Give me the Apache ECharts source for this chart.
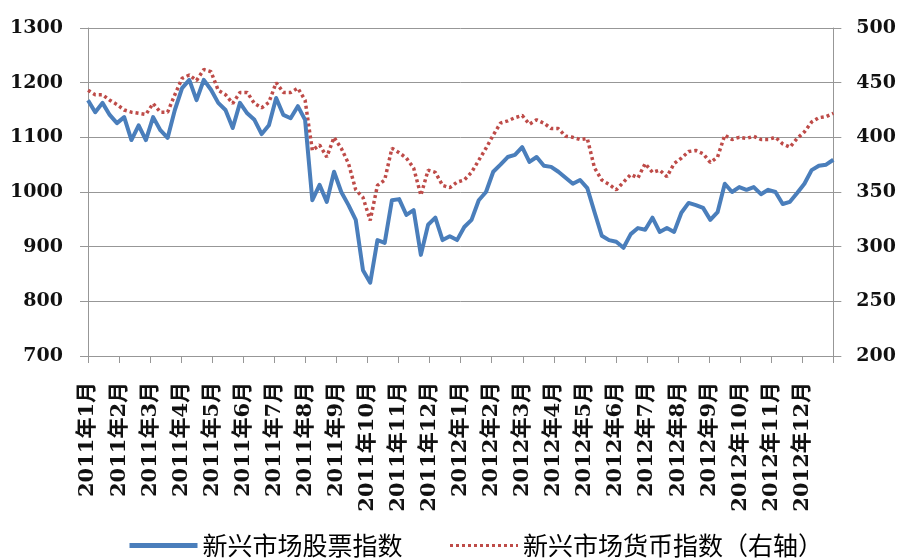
<!DOCTYPE html>
<html>
<head>
<meta charset="utf-8">
<script src="https://cdn.jsdelivr.net/npm/echarts@6/dist/echarts.min.js"></script>
<style>
  html, body { margin: 0; padding: 0; background: #fff; }
  #chart { width: 899px; height: 558px; }
</style>
</head>
<body>
<div id="chart"></div>
<script>
// Month labels along the bottom axis (one per month boundary; the closing tick is unlabeled)
const months = [
  '2011年1月','2011年2月','2011年3月','2011年4月','2011年5月','2011年6月',
  '2011年7月','2011年8月','2011年9月','2011年10月','2011年11月','2011年12月',
  '2012年1月','2012年2月','2012年3月','2012年4月','2012年5月','2012年6月',
  '2012年7月','2012年8月','2012年9月','2012年10月','2012年11月','2012年12月',''
];

// Weekly closes, Jan 2011 – Dec 2012
const stockIndex = [
  1168,1146,1163,1141,1126,1137,1095,1122,1095,1137,
  1113,1099,1150,1190,1205,1168,1205,1187,1163,1150,
  1117,1163,1144,1132,1106,1122,1172,1141,1135,1157,
  1132,985,1013,982,1037,1000,976,949,857,834,
  912,907,985,987,958,967,885,940,953,912,
  919,912,936,949,985,1000,1037,1050,1064,1068,
  1082,1055,1064,1048,1046,1037,1026,1015,1022,1007,
  963,920,912,909,898,923,934,931,953,927,
  934,927,962,980,976,971,949,963,1015,1000,
  1009,1004,1009,996,1004,1000,978,982,998,1015,
  1040,1048,1050,1059
];

const currencyIndex = [
  443,439,439,434,430,425,423,422,421,431,
  423,423,439,454,457,452,462,460,443,439,
  431,441,441,431,427,432,450,441,441,445,
  434,388,393,382,400,390,376,352,345,324,
  356,361,390,386,381,372,347,370,368,356,
  354,359,361,368,379,390,402,413,415,418,
  420,412,416,413,408,408,401,400,398,399,
  372,361,357,352,359,366,363,376,368,370,
  364,376,381,387,388,385,377,382,402,398,
  400,399,401,398,398,400,394,391,399,405,
  414,418,419,422
];

const seriesNames = ['新兴市场股票指数', '新兴市场货币指数（右轴）'];

const axisFont = {
  fontFamily: "'DejaVu Serif', 'Noto Sans CJK SC', serif",
  fontWeight: 'bold',
  color: '#111'
};
const gridColor = '#979797';
const stockColor = '#4a7ebb';
const currencyColor = '#be4b48';
const plain = v => String(v);

const chart = echarts.init(document.getElementById('chart'));
chart.setOption({
  animation: false,
  backgroundColor: '#fff',
  grid: { left: 88, right: 65, top: 28, bottom: 202, containLabel: false },
  legend: {
    data: [
      { name: seriesNames[0], lineStyle: { width: 5, color: stockColor } },
      { name: seriesNames[1], lineStyle: { width: 3, color: currencyColor, type: [3, 3] } }
    ],
    left: 122,
    top: 528,
    itemWidth: 68,
    itemHeight: 14,
    itemGap: 46,
    itemStyle: { opacity: 0 },
    textStyle: {
      fontFamily: "'Noto Sans CJK SC', sans-serif",
      fontSize: 25,
      color: '#000'
    }
  },
  xAxis: [
    {
      type: 'category',
      data: months,
      boundaryGap: false,
      axisLine: { lineStyle: { color: gridColor, width: 1 } },
      axisTick: { show: true, length: 7, lineStyle: { color: gridColor } },
      axisLabel: Object.assign({
        rotate: 90,
        fontSize: 21,
        margin: 26,
        interval: 0
      }, axisFont),
      splitLine: { show: false }
    },
    {
      type: 'value',
      min: 0,
      max: stockIndex.length - 1,
      show: false
    }
  ],
  yAxis: [
    {
      type: 'value',
      min: 700,
      max: 1300,
      interval: 100,
      axisLine: { show: true, lineStyle: { color: gridColor } },
      axisTick: { show: true, length: 8, lineStyle: { color: gridColor } },
      axisLabel: Object.assign({ fontSize: 19, margin: 25, formatter: plain }, axisFont),
      splitLine: { show: true, lineStyle: { color: gridColor, width: 1 } }
    },
    {
      type: 'value',
      min: 200,
      max: 500,
      interval: 50,
      position: 'right',
      axisLine: { show: true, lineStyle: { color: gridColor } },
      axisTick: { show: true, length: 8, lineStyle: { color: gridColor } },
      axisLabel: Object.assign({ fontSize: 19, margin: 23, formatter: plain }, axisFont),
      splitLine: { show: false }
    }
  ],
  series: [
    {
      name: seriesNames[0],
      type: 'line',
      xAxisIndex: 1,
      yAxisIndex: 0,
      data: stockIndex.map((v, i) => [i, v]),
      symbol: 'none',
      color: stockColor,
      lineStyle: { color: stockColor, width: 4, join: 'round' },
      z: 3
    },
    {
      name: seriesNames[1],
      type: 'line',
      xAxisIndex: 1,
      yAxisIndex: 1,
      data: currencyIndex.map((v, i) => [i, v]),
      symbol: 'none',
      color: currencyColor,
      lineStyle: { color: currencyColor, width: 3.5, type: [3, 3] },
      z: 2
    }
  ]
});
</script>
</body>
</html>
